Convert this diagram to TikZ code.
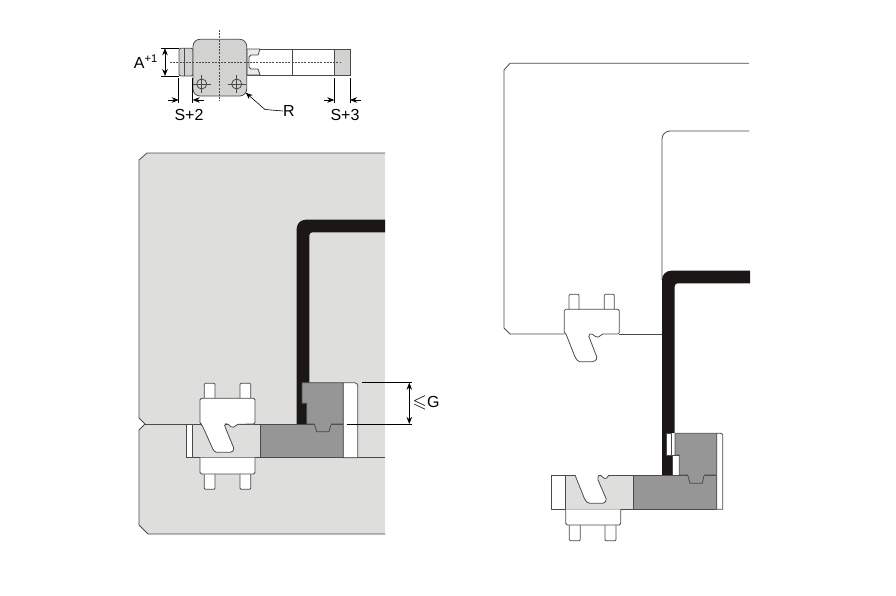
\documentclass[tikz,border=0pt]{standalone}
\usepackage{amssymb}
\usepackage{fontspec}
\setmainfont{Liberation Sans}
\usetikzlibrary{arrows.meta}
\definecolor{panelgray}{HTML}{DEDEDD}
\definecolor{blockgray}{HTML}{969696}
\definecolor{bodygray}{HTML}{D2D2D1}
\definecolor{stripblack}{HTML}{1A1716}
\definecolor{linegray}{HTML}{4A4A4A}
\tikzset{
  outline/.style={draw=linegray,line width=0.8pt,line join=round},
  pin/.style={outline,fill=white,rounded corners=1pt},
  centerline/.style={draw=linegray,line width=0.5pt,dash pattern=on 2pt off 1.2pt},
  dimline/.style={draw=black,line width=0.6pt},
  dimarrow/.style={dimline,-{Stealth[length=7pt,width=5.5pt]}},
  dimboth/.style={dimline,{Stealth[length=7pt,width=5.5pt]}-{Stealth[length=7pt,width=5.5pt]}},
  label/.style={inner sep=0pt,font=\fontsize{16}{18}\selectfont},
}
\begin{document}
\begin{tikzpicture}[x=1pt,y=-1pt]
  \useasboundingbox (0,0) rectangle (896,595);
  % top view
  \fill[white,outline] (247,49) -- (350,49) -- (350,75) -- (247,75) -- cycle;
  \fill[bodygray,outline] (334.3,49) rectangle (350,75);
  \draw[outline] (292.7,49) -- (292.7,75);
  \fill[panelgray!60,outline] (247,49) -- (260,49) -- (258,55) -- (251,55) -- (249,57) -- (249,67) -- (251,69) -- (258,69) -- (260,75) -- (247,75) -- cycle;
  \fill[bodygray,outline,rounded corners=2pt] (193,48.3) -- (179,48.3) -- (179,76) -- (193,76) -- cycle;
  \draw[outline] (184,48.3) -- (184,76);
  \fill[bodygray,outline,rounded corners=7pt] (193,39.3) rectangle (246.7,96);
  \draw[centerline] (170,62.3) -- (340,62.3);
  \draw[centerline] (219.7,30) -- (219.7,101);
  \foreach \x/\n in {201.7/holeA,236.7/holeB} {
    \node[circle,outline,minimum size=10pt,inner sep=0pt] (\n) at (\x,84) {};
    \draw[line width=0.5pt,draw=linegray] (\x-9,84) -- (\x+9,84) (\x,75) -- (\x,93);
  }
  % dimensions of the top view
  \draw[dimline] (161,48.3) -- (179,48.3) (161,76) -- (179,76);
  \draw[dimboth] (165,48.3) -- (165,76);
  \node[label,anchor=east] (dimA) at (158,61.5) {A\textsuperscript{+1}};
  \draw[dimline] (178.7,78) -- (178.7,103) (192.7,78) -- (192.7,103);
  \draw[dimarrow] (168,100) -- (178.7,100);
  \draw[dimarrow] (204,100) -- (192.7,100);
  \node[label] (dimS2) at (189,114.5) {S+2};
  \draw[dimline] (334.3,78) -- (334.3,103) (350,78) -- (350,103);
  \draw[dimarrow] (324,100) -- (334.3,100);
  \draw[dimarrow] (361,100) -- (350,100);
  \node[label] (dimS3) at (345,115) {S+3};
  \node[label] (dimR) at (289,111) {R};
  \draw[dimarrow] (dimR.west) -- (265,109.5) -- (245.7,92.7);
  % left picture
  \fill[panelgray] (147,153) -- (385,153) -- (385,534) -- (148,534) -- (139,525) -- (139,430) -- (145,424) -- (139,418) -- (139,160) -- cycle;
  \draw[outline] (385,153) -- (147,153) -- (139,160) -- (139,418) -- (145,424) -- (139,430) -- (139,525) -- (148,534) -- (385,534);
  \fill[stripblack] (385,219.7) [rounded corners=9pt] -- (296.7,219.7) [sharp corners] -- (296.7,424) -- (309.3,424) [rounded corners=3pt] -- (309.3,232.3) [sharp corners] -- (385,232.3) -- cycle;
  \draw[outline] (145,424) -- (200,424);
  \draw[outline] (186.7,457.7) -- (385,457.7);
  \fill[panelgray,outline] (186.7,424) rectangle (260,457.7);
  \fill[white,outline] (186.7,424) rectangle (192.7,457.7);
  \foreach \x in {204.3,240} {
    \draw[pin] (\x,398.3) -- (\x,383.3) -- (\x+10.7,383.3) -- (\x+10.7,398.3);
    \draw[pin] (\x,474) -- (\x,489.3) -- (\x+10.7,489.3) -- (\x+10.7,474);
  }
  \fill[white,outline,rounded corners=1.5pt] (200,457.7) -- (200,474) -- (255,474) -- (255,457.7);
  \fill[white,outline,rounded corners=1.5pt] (200,424) -- (200,398.3) -- (255,398.3) -- (255,424) -- (236.7,424.3) -- (235,426.7) -- (231.7,427.7) -- (229.3,425) -- (226.7,423.3) -- (224.3,424.3) -- (225,426.7) -- (234.3,449.3) -- (231.7,452.3) -- (215,452.3) -- (213.3,450) -- (201.7,424.3) -- cycle;
  \fill[blockgray,outline] (260,424) rectangle (343.3,457.7);
  \fill[blockgray,outline] (302,382.7) -- (343.3,382.7) -- (343.3,424) -- (331,424) -- (329,431.7) -- (316.7,431.7) -- (314.3,424) -- (306.7,424) -- (306.7,403.3) -- (302,403.3) -- cycle;
  \fill[blockgray] (315,423) rectangle (330.5,425);
  \fill[white,outline] (343.3,457.7) -- (343.3,382.7) [rounded corners=3pt] -- (357.7,382.7) [sharp corners] -- (357.7,457.7) -- cycle;
  % dimension of the left picture
  \draw[dimline] (361.7,382.7) -- (411.7,382.7) (346.7,424) -- (411.7,424);
  \draw[dimboth] (409.3,382.7) -- (409.3,424);
  \node[label,anchor=west] (dimG) at (412.5,403) {\scalebox{1.15}{$\leqslant$}G};
  % right picture
  \draw[outline] (749,63.3) -- (510,63.3) -- (504,70) -- (504,328) -- (510,334) -- (564.3,334);
  \draw[outline] (619.3,334) -- (662,334);
  \draw[outline,rounded corners=8pt] (749,131) -- (662,131) -- (662,280);
  \foreach \x in {569,604.3} {
    \draw[pin] (\x,309.3) -- (\x,294.3) -- (\x+10,294.3) -- (\x+10,309.3);
  }
  \draw[outline,rounded corners=1.5pt] (566,334) -- (564.3,334) -- (564.3,309.3) -- (619.3,309.3) -- (619.3,334) -- (601.5,334) -- (600,336.7) -- (597,337.3) -- (594.3,336) -- (591.7,333.3) -- (588.3,335) -- (597.3,358.3) -- (594.3,361.7) -- (578.3,361.7) -- (575,357) -- (566,334);
  \fill[stripblack] (750,270.7) [rounded corners=9pt] -- (662,270.7) [sharp corners] -- (662,475) -- (674.7,475) [rounded corners=3pt] -- (674.7,283.3) [sharp corners] -- (750,283.3) -- cycle;
  \fill[white,outline] (666.7,433.3) rectangle (671.7,455);
  \fill[white,outline] (672,455) -- (672,475) -- (680,475) -- (680,455) -- cycle;
  \fill[white] (671.7,433.3) rectangle (675,455);
  \fill[panelgray] (565.7,475) rectangle (633.3,509.3);
  \draw[outline] (565.7,475) -- (565.7,509.3) -- (633.3,509.3) -- (633.3,475) -- (609,475);
  \fill[white,outline] (551.3,475) rectangle (565.7,509.3);
  \foreach \x in {569.3,605} {
    \draw[pin] (\x,525) -- (\x,540.7) -- (\x+11,540.7) -- (\x+11,525);
  }
  \fill[white,outline,rounded corners=1.5pt] (565.7,509.3) -- (565.7,525) -- (620.7,525) -- (620.7,509.3);
  \fill[white,rounded corners=1.5pt] (575,475) -- (585,500) -- (588.3,503.3) -- (604,503.3) -- (606.7,500) -- (597.3,478.3) -- (599.3,474.3) -- (602.3,476.7) -- (605.7,479.3) -- (609,475) -- cycle;
  \draw[outline,rounded corners=1.5pt] (575,475) -- (585,500) -- (588.3,503.3) -- (604,503.3) -- (606.7,500) -- (597.3,478.3) -- (599.3,474.3) -- (602.3,476.7) -- (605.7,479.3) -- (609,475);
  \draw[outline] (575,475) -- (565.7,475);
  \fill[blockgray,outline] (633.3,475) rectangle (716.7,509.3);
  \fill[blockgray,outline] (675,433.3) -- (716.7,433.3) -- (716.7,475) -- (704,475) -- (702.3,483.3) -- (690,483.3) -- (687.7,475) -- (679.3,475) -- (679.3,455) -- (675,455) -- cycle;
  \fill[blockgray] (688.5,474) rectangle (703.5,476);
  \fill[white,outline] (716.7,509.3) -- (716.7,433.3) [rounded corners=2pt] -- (722.7,433.3) [sharp corners] -- (722.7,509.3) -- cycle;
\end{tikzpicture}
\end{document}
